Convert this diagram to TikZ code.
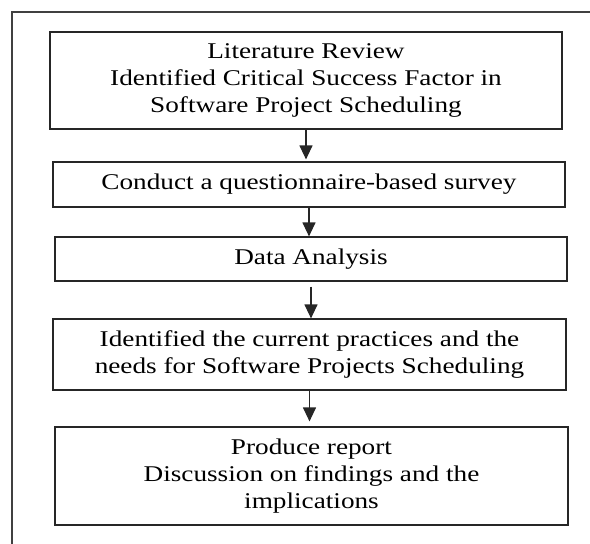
\documentclass[tikz,border=0pt]{standalone}
\usepackage{fontspec}
\setmainfont[FakeStretch=1.21]{Liberation Serif}
\usetikzlibrary{arrows.meta}
\begin{document}
\begin{tikzpicture}[x=1pt,y=-1pt,
  stepbox/.style={draw=black!85,line width=1.2pt,align=center,inner sep=0pt,
    font=\fontsize{22.5}{27}\selectfont,text=black},
  arr/.style={draw=black!85,line width=1.2pt,-{Triangle[length=14pt,width=13pt]}},
  frame/.style={draw=black!75,line width=1.2pt}]
\useasboundingbox (0,0) rectangle (590,544);
\draw[frame] (12,544) -- (12,12) -- (590,12);
\node[stepbox,minimum width=512,minimum height=97] (a) at (306,80.5)
  {Literature Review\\Identified Critical Success Factor in\\Software Project Scheduling};
\node[stepbox,minimum width=512,minimum height=45] (b) at (309,184.5)
  {Conduct a questionnaire-based survey};
\node[stepbox,minimum width=512,minimum height=44] (c) at (311,259)
  {Data Analysis};
\node[stepbox,minimum width=513,minimum height=71] (d) at (309.5,354.5)
  {Identified the current practices and the\\needs for Software Projects Scheduling};
\node[stepbox,minimum width=513,minimum height=98] (e) at (311.5,476)
  {Produce report\\Discussion on findings and the\\implications};
\draw[arr] (a.south) -- ([yshift=2pt]a.south |- b.north);
\draw[arr] (b.south) -- (b.south |- c.north);
\draw[arr] ([yshift=-5pt]c.south) -- (c.south |- d.north);
\draw[arr] (d.south) -- ([yshift=5pt]d.south |- e.north);
\end{tikzpicture}
\end{document}
